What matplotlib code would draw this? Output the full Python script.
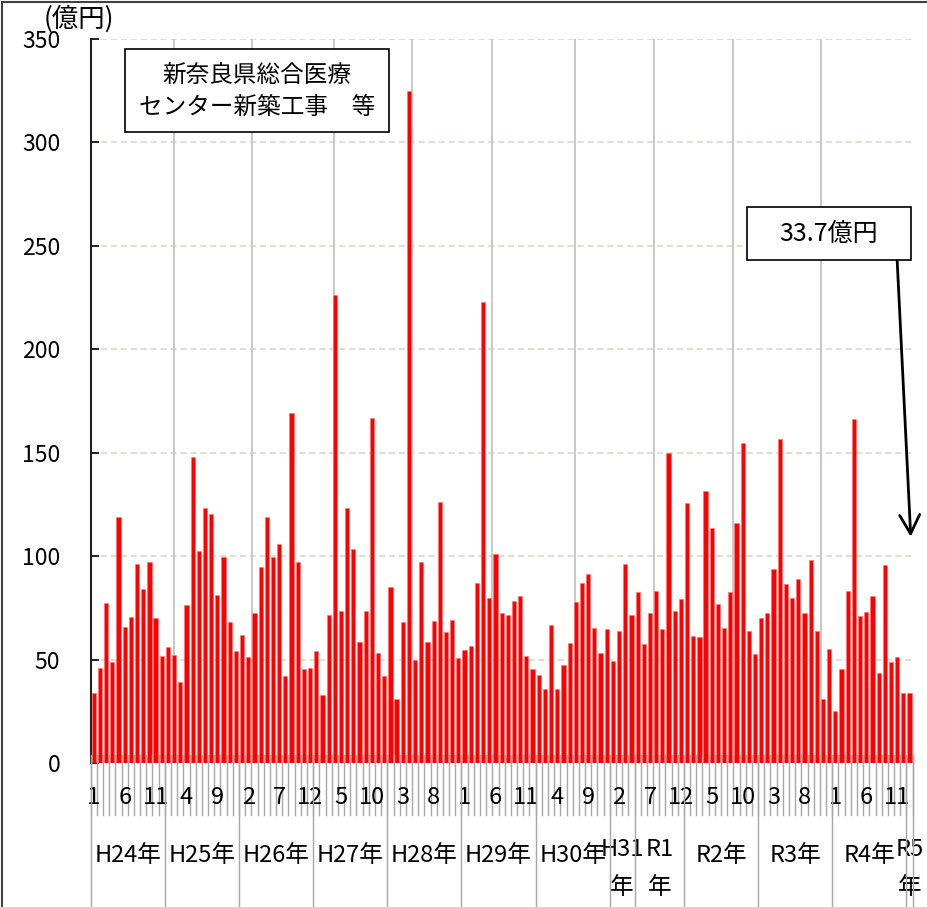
import matplotlib
matplotlib.use("Agg")
import matplotlib.pyplot as plt
from matplotlib.patches import Rectangle
from matplotlib.lines import Line2D
import numpy as np

plt.rcParams['font.family'] = ['Noto Sans CJK JP', 'DejaVu Sans']

# ---- data (億円, monthly, H24.1 .. R5.1) ----
values = [
    33.7, 45.8, 77.3, 48.7, 119.0, 65.9, 70.6, 96.3, 83.9, 97.0, 69.9, 51.7,      # H24
    56.1, 52.4, 39.1, 76.4, 148.0, 102.6, 123.1, 120.2, 81.2, 99.7, 68.3, 54.1,   # H25
    62.0, 51.2, 72.5, 94.9, 119.0, 99.7, 105.8, 42.0, 169.3, 97.1, 45.3, 45.9,    # H26
    54.3, 33.0, 71.4, 226.2, 73.5, 123.2, 103.6, 58.3, 73.3, 166.9, 53.3, 42.0,   # H27
    85.1, 30.9, 68.1, 324.9, 49.9, 97.1, 58.3, 68.5, 126.1, 63.5, 69.0, 50.9,     # H28
    54.8, 56.4, 87.2, 222.7, 79.9, 101.2, 72.5, 71.5, 78.3, 80.6, 51.7, 45.3,     # H29
    42.4, 35.8, 66.7, 35.6, 47.2, 58.0, 77.8, 87.2, 91.3, 65.2, 53.2, 64.8,       # H30
    49.3, 63.8, 96.3, 71.5,                                                       # H31
    82.8, 57.5, 72.5, 83.0, 64.6, 149.7, 73.3, 79.1,                              # R1
    125.8, 61.4, 60.9, 131.6, 113.4, 76.7, 65.1, 82.6, 116.0, 154.8, 64.0, 52.7,  # R2
    70.1, 72.3, 93.8, 156.8, 86.7, 79.6, 88.9, 72.7, 98.1, 63.8, 30.9, 54.9,      # R3
    25.1, 45.4, 83.1, 166.3, 71.0, 73.1, 80.7, 43.4, 95.9, 48.7, 51.1, 33.8,      # R4
    33.7,                                                                         # R5
]
year_labels = ["H24年", "H25年", "H26年", "H27年", "H28年", "H29年", "H30年",
               "H31\n年", "R1\n年", "R2年", "R3年", "R4年", "R5\n年"]
year_months = [12, 12, 12, 12, 12, 12, 12, 4, 8, 12, 12, 12, 1]
y_ticks = [0, 50, 100, 150, 200, 250, 300, 350]
unit_label = "(億円)"
note_text = ["新奈良県総合医療", "センター新築工事　等"]
last_text = "33.7億円"

# ---- figure ----
W, H = 927, 907
fig = plt.figure(figsize=(W / 100, H / 100), dpi=100)
fig.patch.set_facecolor("white")

def fx(px):
    return px / W

def fy(py):
    return 1 - py / H

ax_left, ax_right, ax_top, ax_bottom = 90.7, 912.6, 39, 763
ax = fig.add_axes([fx(ax_left), fy(ax_bottom), fx(ax_right - ax_left), (ax_bottom - ax_top) / H])

n = len(values)
x = np.arange(n)
ax.set_xlim(-0.5, n - 0.5)
ax.set_ylim(0, 350)

# horizontal dashed gridlines
for yt in y_ticks[1:]:
    ax.axhline(yt, color="#d6d6bd", lw=1.1, ls=(0, (4, 2.5)), zorder=0)

# vertical gray gridlines
vgrid = [12.9, 25.6, 38.8, 51.5, 64.5, 77.8, 90.6, 103.5, 117.6]
for v in vgrid:
    ax.axvline(v, color="#c4c4c4", lw=1.3, zorder=0)

# gray band at base
ax.axhspan(0, 3.9, color="#a8a8a8", lw=0, zorder=1)

ax.bar(x, values, width=0.68, color="#ff0000", edgecolor="#ff7070", linewidth=0.4, zorder=2)

# axes styling
for s in ["top", "right", "bottom"]:
    ax.spines[s].set_visible(False)
ax.spines["left"].set_color("#222222")
ax.spines["left"].set_linewidth(1.5)
ax.set_yticks(y_ticks)
ax.set_yticklabels([str(v) for v in y_ticks])
ax.tick_params(axis="y", direction="in", length=6, width=1.2, pad=22, labelsize=16.5, colors="black")
ax.set_xticks([])

trans = ax.get_xaxis_transform()
ah = ax_bottom - ax_top

def ay(py):
    return (ax_bottom - py) / ah

# month tick marks at each category boundary
for b in range(n + 1):
    ax.add_line(Line2D([b - 0.5, b - 0.5], [ay(755), ay(815)], transform=trans,
                       color="#a6a6a6", lw=1.0, clip_on=False, zorder=3))

# month labels every 5 categories
for i in range(0, n, 5):
    ax.text(i, ay(798), str(i % 12 + 1), transform=trans, ha="center", va="center",
            fontsize=17, clip_on=False)

# year separators and labels
start = 0
bounds = [0]
for lab, m in zip(year_labels, year_months):
    end = start + m
    bounds.append(end)
    cx = (start + end) / 2 - 0.5
    if "\n" in lab:
        top, bot = lab.split("\n")
        ax.text(cx, ay(850), top, transform=trans, ha="center", va="center", fontsize=17, clip_on=False)
        ax.text(cx, ay(887), bot, transform=trans, ha="center", va="center", fontsize=17, clip_on=False)
    else:
        ax.text(cx, ay(855), lab, transform=trans, ha="center", va="center", fontsize=17, clip_on=False)
    start = end
for b in bounds:
    ax.add_line(Line2D([b - 0.5, b - 0.5], [0, ay(910)], transform=trans,
                       color="#a6a6a6", lw=1.0, clip_on=False, zorder=3))

# unit label
fig.text(fx(79), fy(19), unit_label, ha="center", va="center", fontsize=19)

# note box
fig.patches.append(Rectangle((fx(125), fy(132)), fx(264), 83 / H, transform=fig.transFigure,
                             facecolor="white", edgecolor="black", lw=1.2, zorder=5))
fig.text(fx(257), fy(76), note_text[0], ha="center", va="center", fontsize=17, zorder=6)
fig.text(fx(257), fy(107), note_text[1], ha="center", va="center", fontsize=17, zorder=6)

# last-value box
fig.patches.append(Rectangle((fx(747), fy(260)), fx(164), 53 / H, transform=fig.transFigure,
                             facecolor="white", edgecolor="black", lw=1.2, zorder=5))
fig.text(fx(829), fy(234), last_text, ha="center", va="center", fontsize=18, zorder=6)

# arrow to last bar
ax.annotate("", xy=(132.2, 109.4), xytext=(130.0, 243.1),
            arrowprops=dict(arrowstyle="->,head_length=0.9,head_width=0.48", lw=2, color="black",
                            mutation_scale=15, shrinkA=0, shrinkB=0),
            annotation_clip=False, zorder=4)

# outer chart border (top and left)
fig.lines.append(Line2D([fx(2), 1], [fy(2), fy(2)], transform=fig.transFigure, color="#404040", lw=1.5))
fig.lines.append(Line2D([fx(2), fx(2)], [fy(2), 0], transform=fig.transFigure, color="#404040", lw=1.5))

fig.savefig("out.png", dpi=100)
